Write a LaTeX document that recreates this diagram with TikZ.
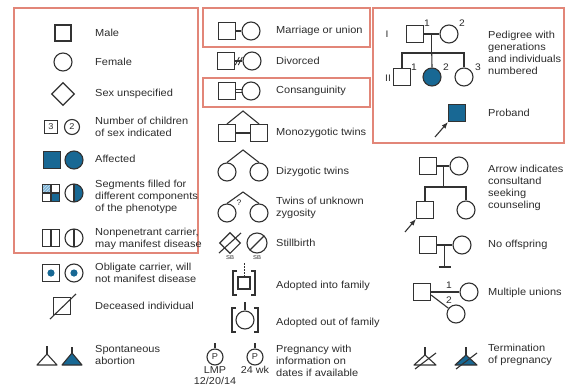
\documentclass[tikz,border=0pt]{standalone}
\usepackage{fontspec}
\setmainfont{Liberation Sans}[FakeStretch=1.08]
\usetikzlibrary{shapes.geometric,arrows.meta,calc,patterns}
\definecolor{boxc}{RGB}{226,134,120}
\definecolor{symc}{RGB}{50,50,50}
\definecolor{txtc}{RGB}{45,45,45}
\definecolor{affblue}{RGB}{24,104,148}
\definecolor{lightb}{RGB}{125,180,215}
\begin{document}
\begin{tikzpicture}[x=1pt,y=-1pt,
 sym/.style={draw=symc,line width=1.1pt},
 sq/.style={sym,rectangle,minimum size=17pt,inner sep=0pt},
 ci/.style={sym,circle,minimum size=18pt,inner sep=0pt},
 lbl/.style={anchor=west,inner sep=0pt,text=txtc,align=left,font=\fontsize{10.2}{12}\selectfont},
 ctr/.style={inner sep=0pt,text=txtc,font=\fontsize{10}{12}\selectfont},
 num/.style={inner sep=0pt,text=txtc,font=\fontsize{9.5}{10}\selectfont},
 tiny/.style={inner sep=0pt,text=txtc,font=\fontsize{5.5}{6}\selectfont},
 frame/.style={draw=boxc,line width=2.2pt},
 filled/.style={fill=affblue},
 vbar/.style={path picture={\draw[symc,line width=1.1pt] (path picture bounding box.north) -- (path picture bounding box.south);}},
 tip/.style={-{Latex[length=6.5pt,width=5pt]},draw=symc,line width=1.1pt}
]
\useasboundingbox (0,0) rectangle (567,391);
\fill[white] (0,0) rectangle (567,391);

% frames
\draw[frame] (14,8) rectangle (198,253);
\draw[frame] (203,8) rectangle (370,47);
\draw[frame] (203,78) rectangle (370,107);
\draw[frame] (373,8) rectangle (564,143);

% ---------- left column ----------
\node[sq,minimum size=16pt] (male) at (63,33) {};
\node[lbl] (tmale) at (95,33) {Male};
\node[ci] (female) at (63,62) {};
\node[lbl] (tfemale) at (95,62) {Female};
\node[sym,diamond,minimum size=23pt,inner sep=0pt] (unsp) at (63,94) {};
\node[lbl] (tunsp) at (95,94) {Sex unspecified};
\node[sq,minimum size=13pt,font=\fontsize{8.5}{9}\selectfont,text=txtc] (n3) at (51,127) {3};
\node[ci,minimum size=15pt,font=\fontsize{8.5}{9}\selectfont,text=txtc] (n2) at (72,127) {2};
\node[lbl] (tnum) at (95,127) {Number of children\\of sex indicated};
\node[sq,filled] (affm) at (52,160) {};
\node[ci,filled] (afff) at (74,160) {};
\node[lbl] (taff) at (95,159) {Affected};
\node[sq,path picture={
  \fill[lightb] (path picture bounding box.north west) rectangle (path picture bounding box.center);
  \fill[pattern=north east lines,pattern color=white!60!lightb] (path picture bounding box.north west) rectangle (path picture bounding box.center);
  \fill[affblue] (path picture bounding box.center) rectangle (path picture bounding box.south east);
  \draw[symc,line width=1.1pt] (path picture bounding box.north) -- (path picture bounding box.south) (path picture bounding box.west) -- (path picture bounding box.east);}] (segm) at (51,193) {};
\node[ci,path picture={
  \fill[affblue] (path picture bounding box.north) rectangle (path picture bounding box.south east);
  \draw[symc,line width=1.1pt] (path picture bounding box.north) -- (path picture bounding box.south);}] (segf) at (74,193) {};
\node[lbl] (tseg) at (95,197) {Segments filled for\\different components\\of the phenotype};
\node[sq,vbar] (npm) at (51,238) {};
\node[ci,vbar] (npf) at (74,238) {};
\node[lbl] (tnp) at (95,239) {Nonpenetrant carrier,\\may manifest disease};
\node[sq] (obm) at (51,273) {};
\fill[affblue] (obm.center) circle[radius=3.6pt];
\node[ci] (obf) at (74,273) {};
\fill[affblue] (obf.center) circle[radius=3.6pt];
\node[lbl] (tob) at (95,273) {Obligate carrier, will\\not manifest disease};
\node[sq] (dec) at (62,306) {};
\draw[sym] ($(dec.center)+(-12,13)$) -- ($(dec.center)+(14,-12)$);
\node[lbl] (tdec) at (95,306) {Deceased individual};
\coordinate (sa1) at (47,354);
\draw[sym,line join=round] (sa1) -- ++(-10,11) -- ++(20,0) -- cycle;
\draw[sym] (sa1) -- ++(0,-8);
\coordinate (sa2) at (72,353);
\draw[sym,fill=affblue,line join=round] (sa2) -- ++(-10,12) -- ++(20,0) -- cycle;
\draw[sym] (sa2) -- ++(0,-6);
\node[lbl] (tsa) at (95,355) {Spontaneous\\abortion};

% ---------- middle column ----------
\node[sq] (mm) at (227,31) {};
\node[ci] (mf) at (251,31) {};
\draw[sym] (mm) -- (mf);
\node[lbl] (tmar) at (276,31) {Marriage or union};

\node[sq] (dm) at (226,61) {};
\node[ci] (df) at (252,61) {};
\draw[sym] (dm) -- (df);
\coordinate (dmid) at ($(dm.east)!0.5!(df.west)$);
\draw[sym,line width=0.9pt] ($(dmid)+(-3.5,4)$) -- ++(4,-8);
\draw[sym,line width=0.9pt] ($(dmid)+(-0.5,4)$) -- ++(4,-8);
\node[lbl] (tdiv) at (276,61) {Divorced};

\node[sq] (cm) at (227,91) {};
\node[ci] (cf) at (251,91) {};
\draw[sym] ([yshift=1.7pt]cm.east) -- ([yshift=1.7pt,xshift=0.3pt]cf.west);
\draw[sym] ([yshift=-1.7pt]cm.east) -- ([yshift=-1.7pt,xshift=0.3pt]cf.west);
\node[lbl] (tcon) at (276,91) {Consanguinity};

\coordinate (mza) at (243,111);
\node[sq] (mz1) at (227,133) {};
\node[sq] (mz2) at (259,133) {};
\draw[sym] (mz1.north) -- (mza) -- (mz2.north);
\draw[sym] (mz1) -- (mz2);
\node[lbl] (tmz) at (276,133) {Monozygotic twins};

\coordinate (dza) at (243,150);
\node[ci] (dz1) at (227,172) {};
\node[ci] (dz2) at (259,172) {};
\draw[sym] (dz1.north) -- (dza) -- (dz2.north);
\node[lbl] (tdz) at (276,172) {Dizygotic twins};

\coordinate (uza) at (243,192);
\node[ci] (uz1) at (227,213) {};
\node[ci] (uz2) at (259,213) {};
\draw[sym] (uz1.north) -- (uza) -- (uz2.north);
\node[num,font=\fontsize{8}{8}\selectfont] (uq) at (239,203) {?};
\node[lbl] (tuz) at (276,208) {Twins of unknown\\zygosity};

\node[sym,diamond,minimum size=21pt,inner sep=0pt] (sbm) at (230,243) {};
\draw[sym] ($(sbm.center)+(-11,10)$) -- ($(sbm.center)+(11,-10)$);
\node[ci,minimum size=20pt] (sbf) at (257,243) {};
\draw[sym] ($(sbf.center)+(-7.1,7.1)$) -- ($(sbf.center)+(7.1,-7.1)$);
\node[tiny] (sb1) at (230,258) {SB};
\node[tiny] (sb2) at (257,258) {SB};
\node[lbl] (tsb) at (276,243) {Stillbirth};

\node[sq,minimum size=12pt] (adin) at (244,283) {};
\coordinate (adint) at (244,263);
\draw[sym,line width=0.9pt,dash pattern=on 1.5pt off 1.5pt] (adint) -- (adin.north);
\draw[sym] (237,271) -- (233,271) -- (233,295) -- (237,295);
\draw[sym] (251,271) -- (255,271) -- (255,295) -- (251,295);
\node[lbl] (tadin) at (276,286) {Adopted into family};

\node[ci] (adout) at (245,320) {};
\coordinate (adoutt) at (245,302);
\draw[sym] (adoutt) -- (adout.north);
\draw[sym] (236,308) -- (232,308) -- (232,332) -- (236,332);
\draw[sym] (254,308) -- (258,308) -- (258,332) -- (254,332);
\node[lbl] (tadout) at (276,323) {Adopted out of family};

\node[ci,minimum size=16pt,font=\fontsize{8.5}{9}\selectfont,text=txtc] (p1) at (215,357) {P};
\coordinate (p1t) at (215,343);
\draw[sym] (p1t) -- (p1.north);
\node[ci,minimum size=16pt,font=\fontsize{8.5}{9}\selectfont,text=txtc] (p2) at (255,357) {P};
\coordinate (p2t) at (255,343);
\draw[sym] (p2t) -- (p2.north);
\node[ctr] (lmp) at (215,370) {LMP};
\node[ctr] (lmpd) at (215,381) {12/20/14};
\node[ctr] (wk) at (255,370) {24 wk};
\node[lbl] (tpreg) at (276,361) {Pregnancy with\\information on\\dates if available};

% ---------- right column ----------
\node[sq] (g1m) at (415,34) {};
\node[ci] (g1f) at (449,34) {};
\draw[sym] (g1m) -- (g1f);
\coordinate (g1d) at ($(g1m.east)!0.5!(g1f.west)$);
\coordinate (g1s) at ($(g1d)+(0,19)$);
\draw[sym] (g1d) -- (g1s);
\node[sq] (g2a) at (402,77) {};
\node[ci,filled] (g2b) at (432,77) {};
\node[ci] (g2c) at (464,77) {};
\draw[sym] (g2a.north) |- (g1s) -| (g2c.north);
\draw[sym] (g1s) -- (g2b.north);
\node[num] (gI) at (387,34) {I};
\node[num] (g1n1) at (427,23) {1};
\node[num] (g1n2) at (462,23) {2};
\node[num] (gII) at (388,78) {II};
\node[num] (g2n1) at (414,67) {1};
\node[num] (g2n2) at (446,67) {2};
\node[num] (g2n3) at (478,67) {3};
\node[lbl] (tped) at (488,53) {Pedigree with\\generations\\and individuals\\numbered};

\node[sq,filled] (prob) at (457,113) {};
\coordinate (proba) at (435,137);
\draw[tip] (proba) -- (prob.south west);
\node[lbl] (tprob) at (488,113) {Proband};

\node[sq] (csm) at (428,166) {};
\node[ci] (csf) at (459,166) {};
\draw[sym] (csm) -- (csf);
\coordinate (csd) at ($(csm.east)!0.5!(csf.west)$);
\coordinate (css) at ($(csd)+(0,21)$);
\draw[sym] (csd) -- (css);
\node[sq] (csc1) at (425,210) {};
\node[ci] (csc2) at (466,210) {};
\draw[sym] (csc1.north) |- (css) -| (csc2.north);
\coordinate (csa) at (405,232);
\draw[tip] (csa) -- (csc1.south west);
\node[lbl] (tcs) at (488,188) {Arrow indicates\\consultand\\seeking\\counseling};

\node[sq] (nom) at (428,245) {};
\node[ci] (nof) at (462,245) {};
\draw[sym] (nom) -- (nof);
\coordinate (nod) at ($(nom.east)!0.5!(nof.west)$);
\coordinate (nob) at ($(nod)+(0,22)$);
\draw[sym] (nod) -- (nob);
\draw[sym] ([xshift=-6pt]nob) -- ([xshift=6pt]nob);
\node[lbl] (tno) at (488,245) {No offspring};

\node[sq] (mum) at (422,292) {};
\node[ci] (muf1) at (469,292) {};
\node[ci] (muf2) at (456,314) {};
\draw[sym] (mum) -- (muf1);
\draw[sym] ([yshift=-3pt]mum.east) -- (muf2);
\node[num] (mu1) at (449,285) {1};
\node[num] (mu2) at (449,300) {2};
\node[lbl] (tmu) at (488,293) {Multiple unions};

\coordinate (tp1) at (425,355);
\draw[sym,line join=round] (tp1) -- ++(-11,10) -- ++(22,0) -- cycle;
\draw[sym] (tp1) -- ++(0,-8);
\draw[sym] ($(tp1)+(-10,14)$) -- ($(tp1)+(11,-2)$);
\coordinate (tp2) at (466,355);
\draw[sym,fill=affblue,line join=round] (tp2) -- ++(-11,10) -- ++(22,0) -- cycle;
\draw[sym] (tp2) -- ++(0,-8);
\draw[sym] ($(tp2)+(-10,14)$) -- ($(tp2)+(11,-2)$);
\node[lbl] (ttp) at (488,355) {Termination\\of pregnancy};
\end{tikzpicture}
\end{document}
